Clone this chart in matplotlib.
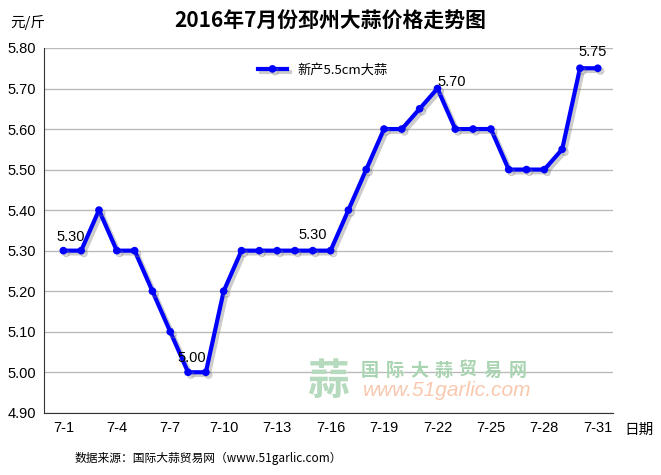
import matplotlib
matplotlib.use("Agg")
import matplotlib.pyplot as plt
import matplotlib.patheffects as pe

plt.rcParams['font.family'] = ['Liberation Sans', 'Noto Sans CJK SC', 'DejaVu Sans']
CJK = ['Noto Sans CJK SC', 'DejaVu Sans']

days = [f"7-{d}" for d in range(1, 32)]
prices = [5.30, 5.30, 5.40, 5.30, 5.30, 5.20, 5.10, 5.00, 5.00, 5.20,
          5.30, 5.30, 5.30, 5.30, 5.30, 5.30, 5.40, 5.50, 5.60, 5.60,
          5.65, 5.70, 5.60, 5.60, 5.60, 5.50, 5.50, 5.50, 5.55, 5.75, 5.75]
series_name = "新产5.5cm大蒜"
yticks = [4.90, 5.00, 5.10, 5.20, 5.30, 5.40, 5.50, 5.60, 5.70, 5.80]
label_idx = [0, 7, 14, 21, 29]

fig = plt.figure(figsize=(6.61, 4.75), dpi=100)
ax = fig.add_axes([0.067, 0.131, 0.86, 0.768])
x = list(range(len(days)))
ax.plot(x, prices, color='#0000FF', lw=3, marker='o', ms=4.5,
        label=series_name, zorder=3,
        path_effects=[pe.SimpleLineShadow(offset=(2, -2), shadow_color='gray', alpha=0.4),
                      pe.Normal()])
ax.set_xlim(-1.07, 30.84)
ax.set_ylim(4.90, 5.80)
ax.set_yticks(yticks)
ax.set_yticklabels([f"{v:.2f}" for v in yticks], fontsize=10.5)
ax.set_xticks(x[::3])
ax.set_xticklabels(days[::3], fontsize=10.5)
ax.tick_params(axis='both', length=0, pad=6)
ax.yaxis.grid(True, color='#BBBBBB', lw=1)
ax.set_axisbelow(True)
for s in ['top', 'right']:
    ax.spines[s].set_visible(False)
ax.spines['left'].set_color('#333333')
ax.spines['bottom'].set_color('#333333')

offsets = {0: (5, 5, 'center'), 7: (3, 5, 'center'), 14: (0, 6, 'center'),
           21: (0, 0, 'left'), 29: (9, 7, 'center')}
for i in label_idx:
    dx, dy, ha = offsets[i]
    ax.annotate(f"{prices[i]:.2f}", (x[i], prices[i]), xytext=(dx, dy),
                textcoords='offset points', ha=ha, va='bottom', fontsize=10.5)

ax.legend(loc='upper left', bbox_to_anchor=(0.355, 0.99), frameon=False,
          handlelength=2.2, prop={'family': CJK, 'size': 9.5})

fig.text(0.5, 0.955, "2016年7月份邳州大蒜价格走势图", ha='center', va='center',
         fontsize=15, fontweight='bold', family=CJK)
fig.text(0.015, 0.953, "元/斤", ha='left', va='center', fontsize=10.5, family=CJK)
fig.text(0.945, 0.094, "日期", ha='left', va='center', fontsize=10.5, family=CJK)
fig.text(0.113, 0.035, "数据来源：国际大蒜贸易网（www.51garlic.com）", ha='left', va='center',
         fontsize=8.5, family=CJK)

# watermark
fig.text(328 / 661, 1 - 382 / 475, "蒜", ha='center', va='center', fontsize=30,
         color='#B5DABD', fontweight='bold', family=CJK, zorder=0)
for k, ch in enumerate("国际大蒜贸易网"):
    fig.text((358 + 12 + k * 24.6) / 661, 1 - 370 / 475, ch, ha='center', va='center',
             fontsize=13, color='#A9D4B1', fontweight='bold', family=CJK, zorder=0)
fig.text(363 / 661, 1 - 390 / 475, "www.51garlic.com", ha='left', va='center', fontsize=15,
         color='#F9C8AE', style='italic', zorder=0)

fig.savefig("out.png", dpi=100)
